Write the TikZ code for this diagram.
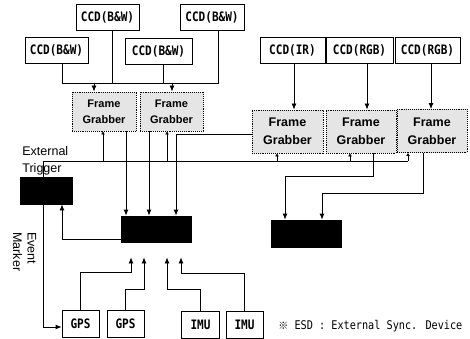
\documentclass[tikz,border=0pt]{standalone}
\usepackage{fontspec}
\setmainfont{Liberation Sans}
\newfontfamily\monof[FakeStretch=0.85]{DejaVu Sans Mono}
\newfontfamily\cjk{Noto Sans CJK SC}
\usetikzlibrary{arrows.meta}
\begin{document}
\begin{tikzpicture}[x=1pt,y=-1pt,line width=0.8pt,
  ccd/.style={draw, fill=white, inner sep=0, minimum height=26pt,
    font={\monof\fontsize{13}{15}\selectfont\bfseries}},
  fgl/.style={draw, densely dotted, line width=0.9pt, fill=black!10, inner sep=0,
    align=center, minimum width=64pt, minimum height=39pt,
    font={\fontsize{11}{16}\selectfont\bfseries}},
  fgr/.style={draw, densely dotted, line width=0.9pt, fill=black!10, inner sep=0,
    align=center, minimum width=70pt, minimum height=43pt,
    font={\fontsize{12.5}{18}\selectfont\bfseries}},
  blk/.style={draw, fill=black, inner sep=0},
  sens/.style={draw, fill=white, inner sep=0, minimum width=37pt, minimum height=27pt,
    font={\monof\fontsize{13}{15}\selectfont\bfseries}},
  arr/.style={-{Latex[length=6pt,width=5pt]}},
  tarr/.style={-{Latex[length=3pt,width=4pt]}},
  lbl/.style={inner sep=0, align=left, font={\fontsize{12.5}{17}\selectfont}}
]
\useasboundingbox (0,0) rectangle (470,339);

% top CCD boxes
\node[ccd, minimum width=63pt] (c1) at (56.5,50) {CCD(B\&W)};
\node[ccd, minimum width=63pt] (c2) at (107.5,17) {CCD(B\&W)};
\node[ccd, minimum width=67pt] (c3) at (158.5,51) {CCD(B\&W)};
\node[ccd, minimum width=64pt] (c4) at (212,17) {CCD(B\&W)};

\node[ccd, minimum width=65pt] (ir) at (292.5,50) {CCD(IR)};
\node[ccd, minimum width=67pt] (rgb1) at (359.5,50) {CCD(RGB)};
\node[ccd, minimum width=65pt] (rgb2) at (427.5,50) {CCD(RGB)};

% frame grabbers
\node[fgl] (fg1) at (104,111.5) {Frame\\Grabber};
\node[fgl, minimum width=63pt] (fg2) at (171.5,111.5) {Frame\\Grabber};
\node[fgr, minimum width=71pt] (fg3) at (287.5,131.5) {Frame\\Grabber};
\node[fgr] (fg4) at (361,131.5) {Frame\\Grabber};
\node[fgr] (fg5) at (432,131) {Frame\\Grabber};

% black boxes
\node[blk, minimum width=52pt, minimum height=27pt] (tb) at (46,190.5) {};
\node[blk, minimum width=70pt, minimum height=26pt] (esd) at (156,229) {};
\node[blk, minimum width=70pt, minimum height=27pt] (rb) at (306,233.5) {};

% sensors
\node[sens] (gps1) at (80.5,324) {GPS};
\node[sens] (gps2) at (125.5,324) {GPS};
\node[sens, minimum width=38pt] (imu1) at (200.5,324.5) {IMU};
\node[sens] (imu2) at (244.5,324.5) {IMU};

% labels
\node[lbl, anchor=north west] (ext) at (22,146) {External\\Trigger};
\node[lbl, rotate=-90, anchor=north west, font={\fontsize{12.5}{14.5}\selectfont}] (ev) at (36.5,232) {Event\\Marker};
\node[anchor=west, inner sep=0, font={\monof\fontsize{12}{14}\selectfont}] (leg) at (278,326)
  {{\cjk\fontsize{10}{12}\selectfont ※}\ ESD : External Sync. Device};

% top bus
\coordinate (b1) at (62,83);
\coordinate (b2) at (112,83);
\coordinate (b3) at (163,83);
\coordinate (b4) at (218,83);
\coordinate (a1) at (94,83);
\coordinate (a2) at (172,83);
\draw (b1 |- c1.south) -- (b1) -- (b4) -- (b4 |- c4.south);
\draw (b2 |- c2.south) -- (b2);
\draw (b3 |- c3.south) -- (b3);
\draw[arr] (a1) -- (a1 |- fg1.north);
\draw[arr] (a2) -- (a2 |- fg2.north);

% right CCD arrows
\coordinate (x1) at (294,0);
\coordinate (x2) at (367,0);
\coordinate (x3) at (431,0);
\draw[arr] (x1 |- ir.south) -- (x1 |- fg3.north);
\draw[arr] (x2 |- rgb1.south) -- (x2 |- fg4.north);
\draw[arr] (x3 |- rgb2.south) -- (x3 |- fg5.north);

% trigger line
\coordinate (t0) at (43,161);
\coordinate (t1) at (103,161);
\coordinate (t2) at (167,161);
\coordinate (t3) at (277,161);
\coordinate (t4) at (350,161);
\coordinate (t5) at (408,161);
\draw (t0 |- tb.north) -- (t0) -- (t5);
\draw[tarr] (t1) -- (t1 |- fg1.south);
\draw[tarr] (t2) -- (t2 |- fg2.south);
\draw[tarr] (t3) -- (t3 |- fg3.south);
\draw[tarr] (t4) -- (t4 |- fg4.south);
\draw[tarr] (t5) -- (t5 |- fg5.south);

% frame grabber outputs to ESD
\coordinate (o1) at (126,0);
\coordinate (o2) at (149,0);
\coordinate (o3) at (176,134);
\draw[arr] (o1 |- fg1.south) -- (o1 |- esd.north);
\draw[arr] (o2 |- fg2.south) -- (o2 |- esd.north);
\draw[arr] (fg3.west |- o3) -- (o3) -- (o3 |- esd.north);

% frame grabber outputs to right box
\coordinate (r1) at (373,176);
\coordinate (r1b) at (285,176);
\coordinate (r2) at (423,193);
\coordinate (r2b) at (322,193);
\draw[arr] (r1 |- fg4.south) -- (r1) -- (r1b) -- (r1b |- rb.north);
\draw[arr] (r2 |- fg5.south) -- (r2) -- (r2b) -- (r2b |- rb.north);

% ESD to trigger box
\coordinate (e1) at (62,239);
\draw[arr] (esd.west |- e1) -- (e1) -- (e1 |- tb.south);

% event marker
\coordinate (m1) at (43,327);
\draw[arr] (m1 |- tb.south) -- (m1) -- (m1 -| gps1.west);

% sensors to ESD
\coordinate (g1) at (131,272);
\coordinate (g2) at (144,289);
\coordinate (g3) at (167,289);
\coordinate (g4) at (181,273);
\draw[arr, shorten >=15pt] (gps1.north) |- (g1) -- (g1 |- esd.south);
\draw[arr, shorten >=15pt] (gps2.north) |- (g2) -- (g2 |- esd.south);
\draw[arr, shorten >=15pt] (imu1.north) |- (g3) -- (g3 |- esd.south);
\draw[arr, shorten >=15pt] (imu2.north) |- (g4) -- (g4 |- esd.south);
\end{tikzpicture}
\end{document}
